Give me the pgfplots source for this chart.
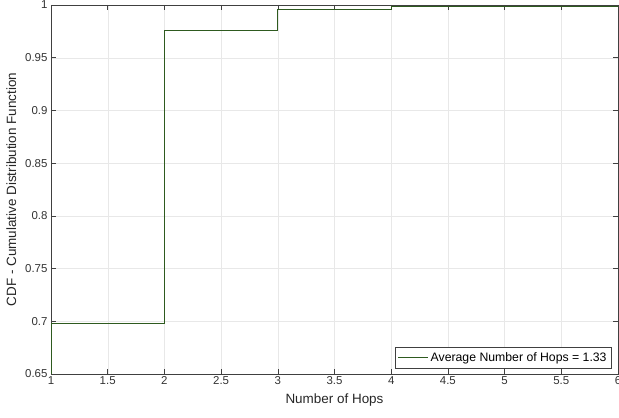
\documentclass[border=0pt]{standalone}
\usepackage{pgfplots}
\pgfplotsset{compat=1.18}
\usepackage{fontspec}
\setmainfont{Liberation Sans}
\definecolor{stepgreen}{HTML}{2E5A1F}
\definecolor{axgray}{HTML}{404040}
\begin{document}
\begin{tikzpicture}
\path[use as bounding box] (-51bp,-44bp) rectangle (568bp,374bp);
\begin{axis}[
    at={(0,0)}, anchor=south west,
    scale only axis,
    width=567bp,
    height=369bp,
    xmin=1, xmax=6,
    ymin=0.65, ymax=1,
    xtick={1,1.5,...,6},
    xticklabels={1,1.5,2,2.5,3,3.5,4,4.5,5,5.5,6},
    ytick={0.65,0.7,0.75,0.8,0.85,0.9,0.95,1},
    yticklabels={0.65,0.7,0.75,0.8,0.85,0.9,0.95,1},
    grid=major,
    grid style={draw=gray!18, line width=0.4pt},
    axis line style={draw=axgray, line width=0.5pt},
    tick style={draw=axgray, line width=0.5pt},
    tick align=inside,
    major tick length=5bp,
    xticklabel style={font=\fontsize{11.5}{13}\selectfont, text=black!80, yshift=1bp},
    yticklabel style={font=\fontsize{11.5}{13}\selectfont, text=black!80},
    xlabel style={font=\fontsize{13.5}{16}\selectfont, text=black!85, yshift=-2bp},
    ylabel style={font=\fontsize{13.5}{16}\selectfont, text=black!85, yshift=2bp},
    xlabel={Number of Hops},
    ylabel={CDF - Cumulative Distribution Function},
    legend style={at={(0.989,0.016)}, anchor=south east,
        font=\fontsize{12.3}{14}\selectfont, draw=axgray, fill=white,
        inner sep=3bp, row sep=0bp},
    legend image code/.code={\draw[#1] (0bp,0bp) -- (30bp,0bp);},
    legend cell align=left,
    clip=true,
]
\addplot[const plot, draw=stepgreen, line width=0.9pt]
    coordinates {(1,0.60) (1,0.698) (2,0.976) (3,0.9955) (4,0.9987) (5,0.9989) (6,1.0)};
\addlegendentry{Average Number of Hops = 1.33}
\end{axis}
\end{tikzpicture}
\end{document}
